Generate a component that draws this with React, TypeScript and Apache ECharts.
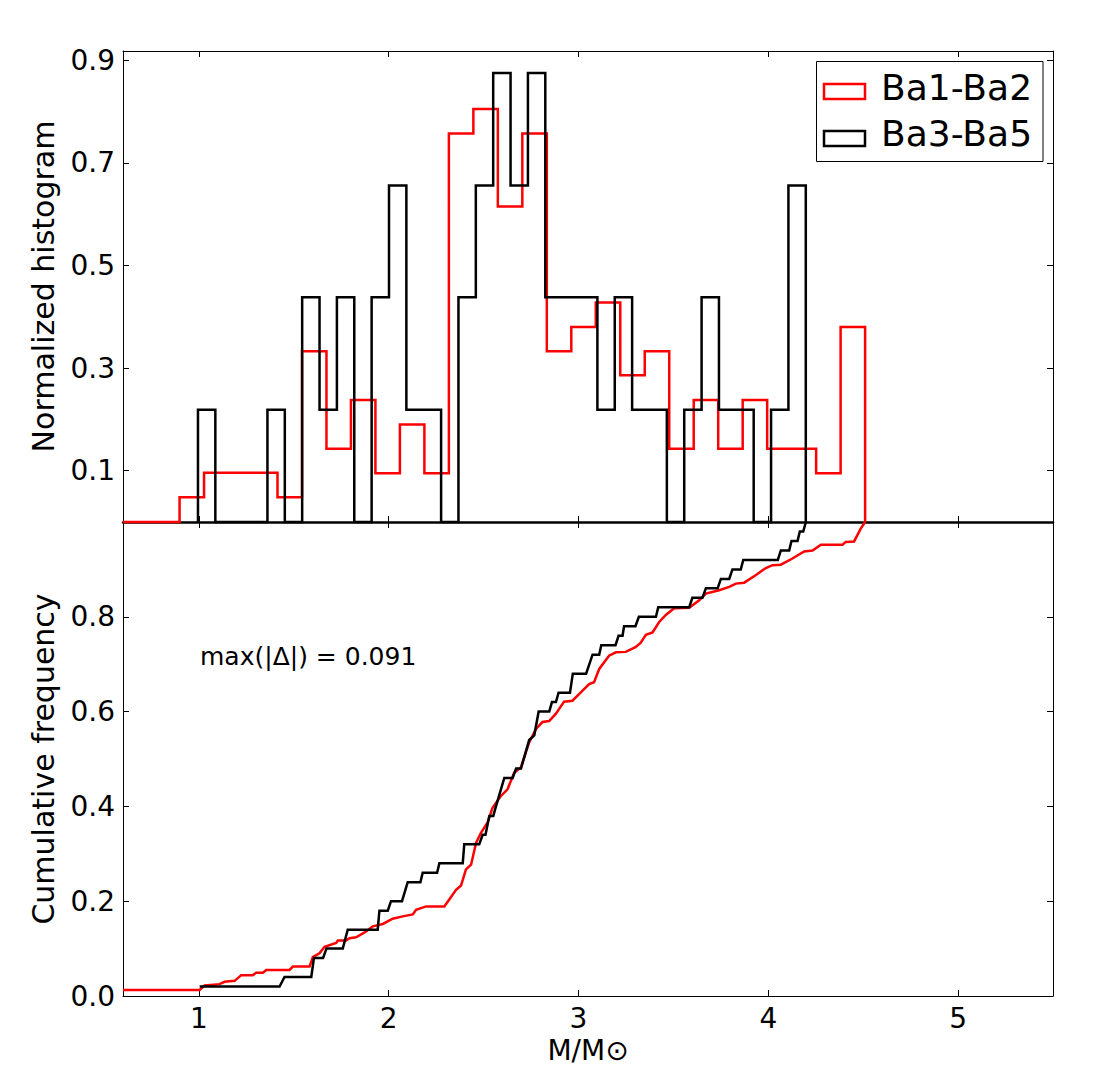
import React, { useEffect, useRef } from "react";
import * as echarts from "echarts";

// ---------- data ----------
const xMin = 0.6;
const xMax = 5.5;
const xTicks = [1, 2, 3, 4, 5];
const histYTicks = [0.1, 0.3, 0.5, 0.7, 0.9];
const cumYTicks = [0.0, 0.2, 0.4, 0.6, 0.8];

const seriesNames = ["Ba1-Ba2", "Ba3-Ba5"];

// red histogram (Ba1-Ba2): 28 bins
const redBinStart = 0.898;
const redBinWidth = 0.129;
const redHeights = [
  0.048, 0.096, 0.096, 0.096, 0.048, 0.333, 0.143, 0.238, 0.095, 0.19, 0.095,
  0.757, 0.805, 0.615, 0.757, 0.333, 0.38, 0.428, 0.286, 0.333, 0.143, 0.238,
  0.143, 0.238, 0.143, 0.143, 0.095, 0.38,
];

// black histogram (Ba3-Ba5): 35 bins
const blackBinStart = 0.995;
const blackBinWidth = 0.0915;
const blackHeights = [
  0.219, 0, 0, 0, 0.219, 0, 0.438, 0.219, 0.438, 0, 0.438, 0.656, 0.219, 0.219,
  0, 0.438, 0.656, 0.875, 0.656, 0.875, 0.438, 0.438, 0.438, 0.219, 0.438,
  0.219, 0.219, 0, 0.219, 0.438, 0.219, 0.219, 0, 0.219, 0.656,
];

// cumulative frequency curves
const redCum = [
  [0.6, 0.0127], [1.004, 0.0127], [1.03, 0.022], [1.109, 0.025], [1.135, 0.03],
  [1.188, 0.032], [1.223, 0.044], [1.284, 0.044], [1.302, 0.049], [1.337, 0.049],
  [1.355, 0.055], [1.477, 0.055], [1.495, 0.062], [1.583, 0.062], [1.6, 0.082],
  [1.635, 0.09], [1.662, 0.104], [1.723, 0.112], [1.732, 0.117], [1.775, 0.117],
  [1.793, 0.122], [1.828, 0.124], [1.881, 0.136], [1.916, 0.147], [1.969, 0.152],
  [2.021, 0.163], [2.074, 0.168], [2.127, 0.172], [2.144, 0.182], [2.197, 0.189],
  [2.293, 0.189], [2.355, 0.224], [2.381, 0.233], [2.407, 0.267], [2.434, 0.277],
  [2.46, 0.323], [2.486, 0.344], [2.521, 0.366], [2.547, 0.397], [2.591, 0.422],
  [2.626, 0.436], [2.661, 0.471], [2.696, 0.482], [2.74, 0.535], [2.775, 0.563],
  [2.81, 0.578], [2.845, 0.58], [2.88, 0.595], [2.924, 0.621], [2.968, 0.623],
  [3.003, 0.637], [3.056, 0.658], [3.082, 0.662], [3.109, 0.69], [3.161, 0.718],
  [3.197, 0.725], [3.249, 0.726], [3.3, 0.736], [3.327, 0.745], [3.355, 0.762],
  [3.39, 0.767], [3.425, 0.789], [3.46, 0.804], [3.504, 0.818], [3.583, 0.819],
  [3.636, 0.835], [3.671, 0.849], [3.741, 0.856], [3.794, 0.863], [3.829, 0.87],
  [3.873, 0.872], [3.935, 0.888], [3.987, 0.903], [4.022, 0.909], [4.066, 0.91],
  [4.127, 0.923], [4.189, 0.938], [4.233, 0.94], [4.277, 0.952], [4.391, 0.952],
  [4.408, 0.958], [4.452, 0.959], [4.487, 0.986], [4.51, 1.0],
];

const blackCum = [
  [1.004, 0.02], [1.425, 0.02], [1.451, 0.04], [1.592, 0.04], [1.606, 0.08],
  [1.654, 0.08], [1.672, 0.1], [1.758, 0.1], [1.784, 0.14], [1.942, 0.14],
  [1.951, 0.18], [1.995, 0.18], [2.012, 0.2], [2.07, 0.2], [2.1, 0.24],
  [2.167, 0.24], [2.179, 0.26], [2.255, 0.26], [2.267, 0.28], [2.39, 0.28],
  [2.398, 0.32], [2.477, 0.32], [2.495, 0.34], [2.51, 0.34], [2.53, 0.38],
  [2.551, 0.38], [2.565, 0.4], [2.609, 0.46], [2.653, 0.46], [2.671, 0.48],
  [2.697, 0.48], [2.74, 0.54], [2.767, 0.55], [2.79, 0.6], [2.846, 0.6],
  [2.86, 0.62], [2.881, 0.62], [2.895, 0.64], [2.955, 0.64], [2.97, 0.68],
  [3.04, 0.68], [3.074, 0.72], [3.109, 0.72], [3.12, 0.74], [3.195, 0.74],
  [3.211, 0.76], [3.232, 0.76], [3.24, 0.78], [3.3, 0.78], [3.318, 0.8],
  [3.408, 0.8], [3.42, 0.82], [3.583, 0.82], [3.6, 0.84], [3.653, 0.84],
  [3.671, 0.86], [3.733, 0.86], [3.75, 0.88], [3.794, 0.88], [3.811, 0.9],
  [3.855, 0.9], [3.868, 0.92], [4.05, 0.92], [4.066, 0.94], [4.11, 0.94],
  [4.122, 0.96], [4.154, 0.96], [4.166, 0.98], [4.184, 0.98], [4.198, 1.0],
];

const annotation = "max(|Δ|) = 0.091";

// ---------- helpers ----------
function stepOutline(start: number, width: number, heights: number[], leadFrom?: number) {
  const pts: number[][] = [];
  if (leadFrom !== undefined) pts.push([leadFrom, 0]);
  pts.push([start, 0]);
  heights.forEach((h, i) => {
    const a = start + i * width;
    const b = start + (i + 1) * width;
    pts.push([a, h]);
    pts.push([b, h]);
  });
  pts.push([start + heights.length * width, 0]);
  return pts;
}

const FONT = "DejaVu Sans";
const RED = "#ff0000";
const BLACK = "#000000";
const LW = 2.5;

function frameAxisX(gridIndex: number, position: "top" | "bottom", lineWidth = 1) {
  return {
    type: "value",
    gridIndex,
    position,
    min: xMin,
    max: xMax,
    axisLine: { show: true, onZero: false, lineStyle: { color: BLACK, width: lineWidth } },
    axisTick: { show: true, inside: true, length: 6, customValues: xTicks, lineStyle: { color: BLACK, width: 1 } },
    axisLabel: { show: false },
    splitLine: { show: false },
  };
}

function frameAxisY(gridIndex: number, position: "left" | "right", max: number, ticks: number[]) {
  return {
    type: "value",
    gridIndex,
    position,
    min: 0,
    max,
    axisLine: { show: true, onZero: false, lineStyle: { color: BLACK, width: 1 } },
    axisTick: { show: true, inside: true, length: 6, customValues: ticks, lineStyle: { color: BLACK, width: 1 } },
    axisLabel: { show: false },
    splitLine: { show: false },
  };
}

export default function App() {
  const ref = useRef<HTMLDivElement>(null);

  useEffect(() => {
    if (!ref.current) return;
    const chart = echarts.init(ref.current, undefined, { renderer: "svg" });

    const histMax = 0.918;
    const cumMax = 1.0;

    const xAxes: any[] = [
      frameAxisX(0, "bottom", 2.5),
      frameAxisX(0, "top"),
      {
        ...frameAxisX(1, "bottom"),
        axisLabel: {
          show: true,
          customValues: xTicks,
          fontFamily: FONT,
          fontSize: 28,
          color: BLACK,
          margin: 8,
          formatter: (v: number) => String(v),
        },
        name: "M/M⊙",
        nameLocation: "middle",
        nameGap: 40,
        nameTextStyle: { fontFamily: FONT, fontSize: 28, color: BLACK },
      },
      frameAxisX(1, "top"),
    ];

    const yAxes: any[] = [
      {
        ...frameAxisY(0, "left", histMax, histYTicks),
        axisLabel: {
          show: true,
          customValues: histYTicks,
          fontFamily: FONT,
          fontSize: 28,
          color: BLACK,
          margin: 8,
          formatter: (v: number) => v.toFixed(1),
        },
        name: "Normalized histogram",
        nameLocation: "middle",
        nameGap: 65,
        nameTextStyle: { fontFamily: FONT, fontSize: 30, color: BLACK },
      },
      frameAxisY(0, "right", histMax, histYTicks),
      {
        ...frameAxisY(1, "left", cumMax, cumYTicks),
        axisLabel: {
          show: true,
          customValues: cumYTicks,
          fontFamily: FONT,
          fontSize: 28,
          color: BLACK,
          margin: 8,
          formatter: (v: number) => v.toFixed(1),
        },
        name: "Cumulative frequency",
        nameLocation: "middle",
        nameGap: 65,
        nameTextStyle: { fontFamily: FONT, fontSize: 30, color: BLACK },
      },
      frameAxisY(1, "right", cumMax, cumYTicks),
    ];

    const lineSeries = (name: string, data: number[][], color: string, xi: number, yi: number, z: number) => ({
      type: "line",
      name,
      data,
      xAxisIndex: xi,
      yAxisIndex: yi,
      symbol: "none",
      showSymbol: false,
      smooth: false,
      clip: false,
      z,
      lineStyle: { color, width: LW, join: "miter", cap: "butt" },
      emphasis: { disabled: true },
    });

    const option: any = {
      animation: false,
      backgroundColor: "#ffffff",
      textStyle: { fontFamily: FONT },
      grid: [
        { left: 123, top: 51, width: 930, height: 471, containLabel: false },
        { left: 123, top: 522, width: 930, height: 474, containLabel: false },
      ],
      xAxis: xAxes,
      yAxis: yAxes,
      series: [
        lineSeries(seriesNames[0], stepOutline(redBinStart, redBinWidth, redHeights, xMin), RED, 0, 0, 3),
        lineSeries(seriesNames[1], stepOutline(blackBinStart, blackBinWidth, blackHeights), BLACK, 0, 0, 4),
        lineSeries(seriesNames[0] + " cumulative", redCum, RED, 2, 2, 3),
        lineSeries(seriesNames[1] + " cumulative", blackCum, BLACK, 2, 2, 4),
      ],
      graphic: [
        {
          type: "text",
          left: 200,
          top: 644,
          z: 50,
          style: { text: annotation, fontFamily: FONT, fontSize: 25, fill: BLACK },
        },
        {
          type: "rect",
          z: 50,
          shape: { x: 816.5, y: 61.5, width: 226.5, height: 100 },
          style: { fill: "#ffffff", stroke: BLACK, lineWidth: 1 },
        },
        {
          type: "rect",
          z: 51,
          shape: { x: 824, y: 84, width: 41, height: 15 },
          style: { fill: "none", stroke: RED, lineWidth: LW },
        },
        {
          type: "text",
          z: 51,
          x: 881,
          y: 87,
          style: {
            text: seriesNames[0],
            fontFamily: FONT,
            fontSize: 36,
            fill: BLACK,
            verticalAlign: "middle",
            align: "left",
          },
        },
        {
          type: "rect",
          z: 51,
          shape: { x: 824, y: 131, width: 41, height: 15 },
          style: { fill: "none", stroke: BLACK, lineWidth: LW },
        },
        {
          type: "text",
          z: 51,
          x: 881,
          y: 133,
          style: {
            text: seriesNames[1],
            fontFamily: FONT,
            fontSize: 36,
            fill: BLACK,
            verticalAlign: "middle",
            align: "left",
          },
        },
      ],
    };

    chart.setOption(option);
    return () => chart.dispose();
  }, []);

  return (
    <div
      ref={ref}
      style={{ position: "absolute", left: 0, top: 0, width: 1103, height: 1088, background: "#fff" }}
    />
  );
}
